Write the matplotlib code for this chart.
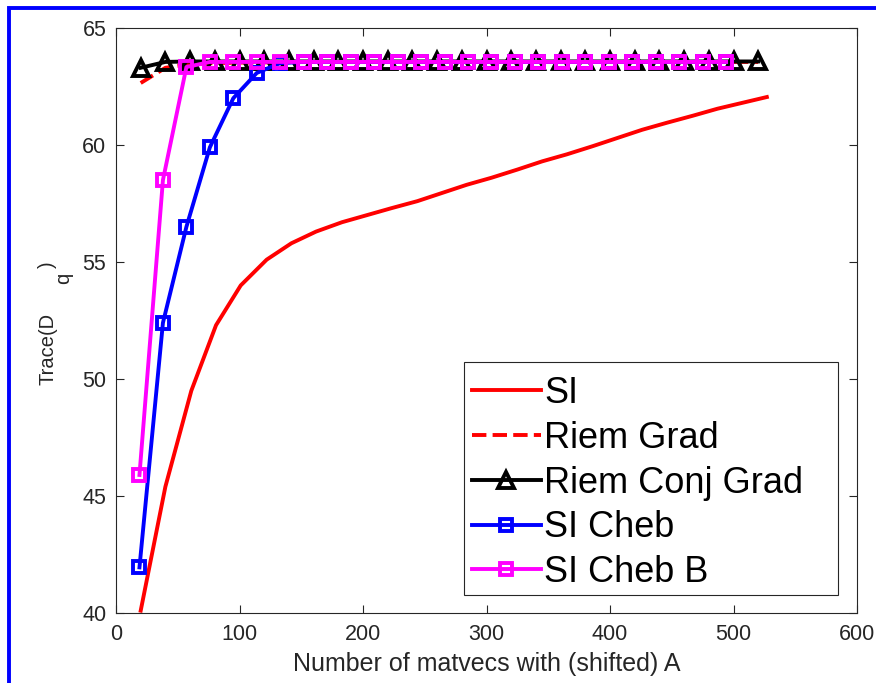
import matplotlib
matplotlib.use('Agg')
import matplotlib.pyplot as plt
from matplotlib.patches import Rectangle

plt.rcParams['font.family'] = ['Liberation Sans', 'DejaVu Sans']

# SI (plain subspace iteration)
x_si = [20, 40, 61, 81, 101, 122, 142, 162, 183, 203, 223, 244, 264,
        284, 304, 325, 345, 365, 386, 406, 426, 446, 467, 487, 507, 527]
y_si = [40.1, 45.4, 49.5, 52.3, 54.0, 55.1, 55.8, 56.3, 56.7, 57.0, 57.3, 57.6, 57.95,
        58.3, 58.6, 58.95, 59.3, 59.6, 59.95, 60.3, 60.65, 60.95, 61.25, 61.55, 61.8, 62.05]

# Riemannian gradient (mostly hidden under the CG curve)
x_rg = [20, 40, 60, 80, 100, 120, 140, 160, 180, 200, 220, 240, 260,
        280, 300, 320, 340, 360, 380, 400, 420, 440, 460, 480, 500, 520]
y_rg = [62.65, 63.3, 63.45, 63.5, 63.52, 63.53, 63.54, 63.55, 63.55, 63.55, 63.55, 63.55, 63.55,
        63.55, 63.55, 63.55, 63.55, 63.55, 63.55, 63.55, 63.55, 63.55, 63.55, 63.55, 63.55, 63.55]

# Riemannian conjugate gradient
x_rcg = [20, 40, 60, 80, 100, 120, 140, 160, 180, 200, 220, 240, 260,
         280, 300, 320, 340, 360, 380, 400, 420, 440, 460, 480, 500, 520]
y_rcg = [63.3, 63.55, 63.57, 63.57, 63.57, 63.57, 63.57, 63.57, 63.57, 63.57, 63.57, 63.57, 63.57,
         63.57, 63.57, 63.57, 63.57, 63.57, 63.57, 63.57, 63.57, 63.57, 63.57, 63.57, 63.57, 63.57]

# SI Chebyshev
x_cheb = [19, 38, 57, 76, 95, 114, 133, 152, 171, 190, 209, 228, 247,
          266, 285, 304, 323, 342, 361, 380, 399, 418, 437, 456, 475, 494]
y_cheb = [41.95, 52.4, 56.5, 59.9, 62.0, 63.08, 63.5, 63.55, 63.55, 63.55, 63.55, 63.55, 63.55,
          63.55, 63.55, 63.55, 63.55, 63.55, 63.55, 63.55, 63.55, 63.55, 63.55, 63.55, 63.55, 63.55]

# SI Chebyshev B
x_chebb = [19, 38, 57, 76, 95, 114, 133, 152, 171, 190, 209, 228, 247,
           266, 285, 304, 323, 342, 361, 380, 399, 418, 437, 456, 475, 494]
y_chebb = [45.9, 58.5, 63.33, 63.55, 63.55, 63.55, 63.55, 63.55, 63.55, 63.55, 63.55, 63.55, 63.55,
           63.55, 63.55, 63.55, 63.55, 63.55, 63.55, 63.55, 63.55, 63.55, 63.55, 63.55, 63.55, 63.55]

W, H = 876, 683
fig = plt.figure(figsize=(W/100, H/100), dpi=100)
ax = fig.add_axes([116/W, 1-613/H, (857-116)/W, (613-28)/H])

lw = 2.8
ax.plot(x_si, y_si, '-', color='#ff0000', lw=lw, label='SI')
ax.plot(x_rg, y_rg, '--', color='#ff0000', lw=lw, label='Riem Grad')
ax.plot(x_rcg, y_rcg, '-^', color='k', lw=lw, ms=11, mfc='none', mew=2.8,
        label='Riem Conj Grad')
ax.plot(x_cheb, y_cheb, '-s', color='#0000ff', lw=lw, ms=8.5, mfc='none', mew=2.8,
        label='SI Cheb')
ax.plot(x_chebb, y_chebb, '-s', color='#ff00ff', lw=lw, ms=8.5, mfc='none', mew=2.8,
        label='SI Cheb B')

ax.set_xlim(0, 600)
ax.set_ylim(40, 65)
ax.set_xticks([0, 100, 200, 300, 400, 500, 600])
ax.set_yticks([40, 45, 50, 55, 60, 65])
ax.tick_params(direction='in', length=6, width=0.8, top=True, right=True,
               labelsize=15.5, colors='#262626')
ax.tick_params(axis='x', pad=8)
ax.tick_params(axis='y', pad=7)
for s in ax.spines.values():
    s.set_color('#262626')
    s.set_linewidth(0.8)

ax.set_xlabel('Number of matvecs with (shifted) A', fontsize=18, color='#262626', labelpad=5)

# y label in the matlab style: Trace(D  q ) with a big, low subscript
ylab = dict(rotation=90, rotation_mode='anchor', ha='left', va='baseline',
            fontsize=14.5, color='#262626', transform=fig.transFigure)
fig.text(53/W, 1-385/H, 'Trace(D', **ylab)
fig.text(69/W, 1-284/H, 'q', **ylab)
fig.text(53/W, 1-268/H, ')', **ylab)

# legend entries without frame, frame drawn separately (matlab leaves extra space on the right)
leg = ax.legend(loc='lower left', fontsize=26, handlelength=1.9, handletextpad=0.1,
                labelspacing=0.27, borderpad=0, borderaxespad=0, frameon=False,
                bbox_to_anchor=((472-116)/741, (613-590)/585))
ax.add_patch(Rectangle(((464-116)/741, (613-595)/585), (838-464)/741, (595-362)/585,
                       transform=ax.transAxes, fill=False, edgecolor='#262626', lw=0.8,
                       zorder=6))

# blue frame on the left and top
fig.patches.append(Rectangle((8.5/W, -0.5), 2, 0.5 + 1 - 8/H, transform=fig.transFigure,
                             fill=False, edgecolor='#0000ff', lw=2.8))

fig.savefig('out.png', dpi=100)
